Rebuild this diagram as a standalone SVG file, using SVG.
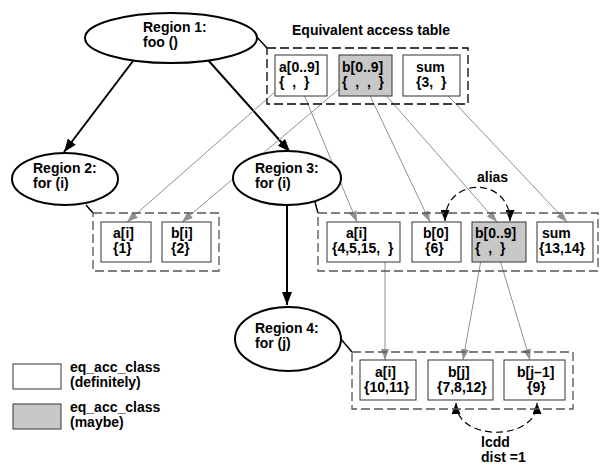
<svg xmlns="http://www.w3.org/2000/svg" width="603" height="464" viewBox="0 0 603 464">
<style>
text{font-family:"Liberation Sans",Arial,sans-serif;font-weight:bold;font-size:14px;fill:#000;white-space:pre}
.reg{fill:#fff;stroke:#000;stroke-width:2}
.box{fill:#fff;stroke:#333;stroke-width:1}
.maybe{fill:#c8c8c8;stroke:#333;stroke-width:1}
.grp{fill:none;stroke:#555;stroke-width:1.3;stroke-dasharray:9,4}
.tbl{fill:none;stroke:#000;stroke-width:1.3;stroke-dasharray:9,4}
.thick{fill:none;stroke:#000;stroke-width:2;marker-end:url(#ah)}
.link{fill:none;stroke:#000;stroke-width:1.5}
.gray{fill:none;stroke:#909090;stroke-width:1;marker-end:url(#gh)}
.dep{fill:none;stroke:#000;stroke-width:1.2;stroke-dasharray:7,4;marker-start:url(#dh);marker-end:url(#dh)}
</style>
<defs>
<marker id="ah" markerUnits="userSpaceOnUse" markerWidth="14" markerHeight="10" refX="13" refY="5" orient="auto"><path d="M0,0 L13,5 L0,10 Z" fill="#000"/></marker>
<marker id="gh" markerUnits="userSpaceOnUse" markerWidth="12" markerHeight="8" refX="11" refY="4" orient="auto"><path d="M0,0 L11,4 L0,8 Z" fill="#909090"/></marker>
<marker id="dh" markerUnits="userSpaceOnUse" markerWidth="12" markerHeight="9" refX="11" refY="4.5" orient="auto-start-reverse"><path d="M0,0 L11,4.5 L0,9 Z" fill="#000"/></marker>
</defs>

<g id="connectors">
<line class="thick" x1="133" y1="61" x2="64" y2="152"/>
<line class="thick" x1="208" y1="60" x2="290" y2="152"/>
<line class="thick" x1="287" y1="205" x2="287" y2="305"/>
<line class="link" x1="255" y1="35" x2="267" y2="48"/>
<line class="link" x1="86" y1="205" x2="93" y2="213"/>
<line class="link" x1="315" y1="202" x2="318" y2="213"/>
<line class="link" x1="340" y1="338" x2="352" y2="352"/>
<line class="gray" x1="284" y1="84" x2="127" y2="222"/>
<line class="gray" x1="345" y1="84" x2="182" y2="222"/>
<line class="gray" x1="300" y1="85" x2="357" y2="222"/>
<line class="gray" x1="365" y1="85" x2="430" y2="222"/>
<line class="gray" x1="377" y1="85" x2="497" y2="222"/>
<line class="gray" x1="438" y1="85" x2="567" y2="222"/>
<line class="gray" x1="385" y1="247" x2="385" y2="360"/>
<line class="gray" x1="483" y1="249" x2="463" y2="360"/>
<line class="gray" x1="497" y1="250" x2="530" y2="360"/>
<path class="dep" d="M445,221 C445,176 510,176 510,221"/>
<path class="dep" d="M456,403 C456,442 537,442 537,403"/>
<text x="477" y="182">alias</text>
<text x="481" y="447">lcdd</text>
<text x="481" y="462">dist =1</text>
</g>

<g id="region1">
<ellipse class="reg" cx="171" cy="38" rx="86" ry="25"/>
<text x="143" y="32">Region 1:</text>
<text x="143" y="47">foo ()</text>
</g>
<g id="region2">
<ellipse class="reg" cx="65" cy="179" rx="53" ry="26"/>
<text x="33" y="173">Region 2:</text>
<text x="33" y="188">for (i)</text>
</g>
<g id="region3">
<ellipse class="reg" cx="287" cy="178" rx="54" ry="27"/>
<text x="255" y="173">Region 3:</text>
<text x="255" y="188">for (i)</text>
</g>
<g id="region4">
<ellipse class="reg" cx="288" cy="339" rx="53" ry="32"/>
<text x="255" y="333">Region 4:</text>
<text x="255" y="348">for (j)</text>
</g>

<g id="table">
<text x="292" y="35">Equivalent access table</text>
<rect class="tbl" x="267" y="48" width="201" height="56"/>
<rect class="box" x="275" y="55" width="52" height="41"/>
<text x="279" y="72">a[0..9]</text>
<text x="279" y="87">{  ,  }</text>
<rect class="maybe" x="339" y="55" width="53" height="41"/>
<text x="342" y="72">b[0..9]</text>
<text x="342" y="87">{  ,  ,  }</text>
<rect class="box" x="403" y="55" width="57" height="41"/>
<text x="416" y="72">sum</text>
<text x="416" y="87">{3,  }</text>
</g>

<g id="region2-classes">
<rect class="grp" x="93" y="213" width="126" height="58"/>
<rect class="box" x="101" y="222" width="50" height="40"/>
<text x="113" y="238">a[i]</text>
<text x="113" y="253">{1}</text>
<rect class="box" x="162" y="222" width="49" height="40"/>
<text x="171" y="238">b[i]</text>
<text x="171" y="253">{2}</text>
</g>

<g id="region3-classes">
<rect class="grp" x="318" y="213" width="280" height="58"/>
<rect class="box" x="327" y="222" width="73" height="40"/>
<text x="346" y="238">a[i]</text>
<text x="332" y="253">{4,5,15,  }</text>
<rect class="box" x="412" y="222" width="49" height="40"/>
<text x="423" y="238">b[0]</text>
<text x="425" y="253">{6}</text>
<rect class="maybe" x="472" y="222" width="54" height="40"/>
<text x="475" y="238">b[0..9]</text>
<text x="475" y="253">{  ,  }</text>
<rect class="box" x="537" y="222" width="56" height="40"/>
<text x="542" y="238">sum</text>
<text x="539" y="253">{13,14}</text>
</g>

<g id="region4-classes">
<rect class="grp" x="352" y="352" width="221" height="57"/>
<rect class="box" x="360" y="360" width="56" height="40"/>
<text x="375" y="377">a[i]</text>
<text x="364" y="392">{10,11}</text>
<rect class="box" x="428" y="360" width="65" height="40"/>
<text x="448" y="377">b[j]</text>
<text x="437" y="392">{7,8,12}</text>
<rect class="box" x="504" y="360" width="61" height="40"/>
<text x="517" y="377">b[j–1]</text>
<text x="527" y="392">{9}</text>
</g>

<g id="legend">
<rect class="box" x="13" y="364" width="48" height="25"/>
<text x="70" y="372">eq_acc_class</text>
<text x="70" y="387">(definitely)</text>
<rect class="maybe" x="13" y="404" width="48" height="25"/>
<text x="70" y="412">eq_acc_class</text>
<text x="70" y="427">(maybe)</text>
</g>
</svg>
